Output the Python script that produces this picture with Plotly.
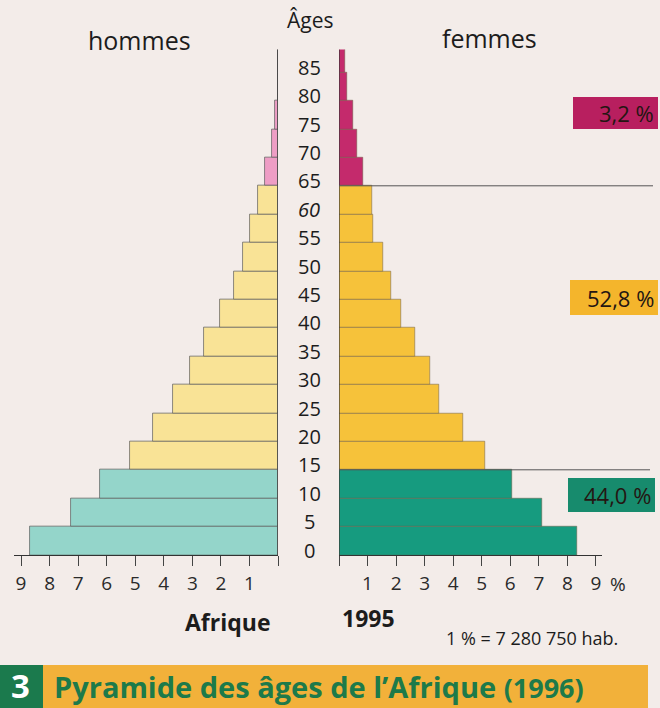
import plotly.graph_objects as go

# ---------------- data ----------------
ages = [0, 5, 10, 15, 20, 25, 30, 35, 40, 45, 50, 55, 60, 65, 70, 75, 80, 85]
age_labels = ["0", "5", "10", "15", "20", "25", "30", "35", "40", "45",
              "50", "55", "<i>60</i>", "65", "70", "75", "80", "85"]
hommes = [8.69, 7.25, 6.23, 5.2, 4.38, 3.68, 3.1, 2.6, 2.03, 1.54,
          1.22, 1.0, 0.7, 0.45, 0.22, 0.12, 0.0, 0.0]
femmes = [8.35, 7.1, 6.05, 5.1, 4.35, 3.5, 3.19, 2.66, 2.16, 1.82,
          1.55, 1.2, 1.15, 0.84, 0.63, 0.49, 0.28, 0.2]
group_labels = ["44,0 %", "52,8 %", "3,2 %"]   # 0-14, 15-64, 65+
x_ticks = [0, 1, 2, 3, 4, 5, 6, 7, 8, 9]
x_ticktext = ["", "1", "2", "3", "4", "5", "6", "7", "8", "9"]

# ---------------- styling ----------------
W, H = 660, 708
BG = "#f3ece9"
men_cols = ["#94d5ca", "#f9e396", "#ee9dc5"]
women_cols = ["#169b7f", "#f6c23a", "#c42a6c"]
box_cols = ["#178b6d", "#f4b52c", "#b81f5f"]
FONT = "Open Sans"
INK = "#1c1c1c"


def grp(a):
    return 0 if a < 15 else (1 if a < 65 else 2)


def px(x):
    return x / W


def py(y):
    return 1 - y / H


PX_PER = 28.55
men_zero, women_zero = 278, 339
men_range = [9.25, 0]
women_range = [0, 9.2]
y_range = [0, 89]
y0_px, px_per_year = 555, 5.68
ydom = [py(y0_px), py(y0_px - y_range[1] * px_per_year)]

fig = go.Figure()
fig.add_trace(go.Bar(
    y=[a + 2.5 for a in ages], x=hommes, orientation="h", width=5,
    marker=dict(color=[men_cols[grp(a)] for a in ages],
                line=dict(color="#5a5a5a", width=0.7)),
    xaxis="x", yaxis="y", showlegend=False, hoverinfo="skip"))
fig.add_trace(go.Bar(
    y=[a + 2.5 for a in ages], x=femmes, orientation="h", width=5,
    marker=dict(color=[women_cols[grp(a)] for a in ages],
                line=dict(color="#6a5a40", width=0.5)),
    xaxis="x2", yaxis="y", showlegend=False, hoverinfo="skip"))

axis_common = dict(tickvals=x_ticks, ticktext=x_ticktext, ticks="outside",
                   ticklen=10, tickcolor="#444", tickwidth=1, showline=True,
                   linecolor="#333", linewidth=1.2, showgrid=False,
                   zeroline=False, ticklabelstandoff=1,
                   tickfont=dict(family=FONT, size=19, color="#2a2a2a"),
                   fixedrange=True)
fig.update_layout(
    width=W, height=H, margin=dict(l=0, r=0, t=0, b=0),
    paper_bgcolor=BG, plot_bgcolor="rgba(0,0,0,0)",
    xaxis=dict(domain=[px(men_zero - men_range[0] * PX_PER), px(men_zero)],
               range=men_range, anchor="y", **axis_common),
    xaxis2=dict(domain=[px(women_zero), px(women_zero + women_range[1] * PX_PER)],
                range=women_range, anchor="y", **axis_common),
    yaxis=dict(domain=ydom, range=y_range, visible=False, fixedrange=True),
    bargap=0,
)

shapes = []
# vertical axis lines at zero
for ax in ["x", "x2"]:
    shapes.append(dict(type="line", xref=ax, yref="y", x0=0, x1=0, y0=0,
                       y1=y_range[1], line=dict(color="#333", width=1.2)))
# horizontal separators on the right
shapes.append(dict(type="line", xref="paper", yref="y", x0=px(339), x1=px(653),
                   y0=65, y1=65, line=dict(color="#555", width=1)))
shapes.append(dict(type="line", xref="paper", yref="y", x0=px(339), x1=px(650),
                   y0=15, y1=15, line=dict(color="#555", width=1)))

annotations = []
# group share boxes
boxes = [(568, 655, 478, 512), (570, 658, 280, 315), (573, 658, 97, 129)]
for (x0, x1, y0, y1), col, lab in zip(boxes, box_cols, group_labels):
    shapes.append(dict(type="rect", xref="paper", yref="paper",
                       x0=px(x0), x1=px(x1), y0=py(y1), y1=py(y0),
                       fillcolor=col, line=dict(width=0), layer="above"))
    annotations.append(dict(xref="paper", yref="paper", x=px(x1 - 2),
                            y=py((y0 + y1) / 2), text=lab, showarrow=False,
                            xanchor="right", yanchor="middle",
                            font=dict(family=FONT, size=22, color="#241612")))

# age labels
for a, lab in zip(ages, age_labels):
    annotations.append(dict(xref="paper", yref="y", x=px(309), y=a, yshift=5,
                            text=lab, showarrow=False, xanchor="center",
                            yanchor="middle",
                            font=dict(family=FONT, size=20, color=INK)))


def txt(x, y, t, size, bold=False, color=INK, anchor="center"):
    annotations.append(dict(xref="paper", yref="paper", x=px(x), y=py(y),
                            text=(f"<b>{t}</b>" if bold else t),
                            showarrow=False, xanchor=anchor, yanchor="middle",
                            font=dict(family=FONT, size=size, color=color)))


txt(139, 40, "hommes", 25)
txt(489, 38, "femmes", 25)
txt(310, 20, "Âges", 21)
txt(618, 584, "%", 19, color="#2a2a2a")
txt(228, 622, "Afrique", 23, bold=True)
txt(368, 618, "1995", 23, bold=True)
txt(532, 638, "1 % = 7 280 750 hab.", 18)

# bottom title band
shapes.append(dict(type="rect", xref="paper", yref="paper", x0=px(43),
                   x1=px(648), y0=0, y1=py(665), fillcolor="#f2b13a",
                   line=dict(width=0)))
shapes.append(dict(type="rect", xref="paper", yref="paper", x0=0,
                   x1=px(43), y0=0, y1=py(665), fillcolor="#1b7a4d",
                   line=dict(width=0)))
txt(21, 685, "3", 33, bold=True, color="#ffffff")
annotations.append(dict(xref="paper", yref="paper", x=px(52), y=py(686),
                        text="<b>Pyramide des âges de l’Afrique "
                             "<span style='font-size:27px'>(1996)</span></b>",
                        showarrow=False, xanchor="left", yanchor="middle",
                        font=dict(family=FONT, size=29, color="#1d7a4a")))

fig.update_layout(shapes=shapes, annotations=annotations)
fig.write_html("out.html", config={"displayModeBar": False},
               post_script="document.body.style.margin='0';"
                           "document.body.style.overflow='hidden';")
